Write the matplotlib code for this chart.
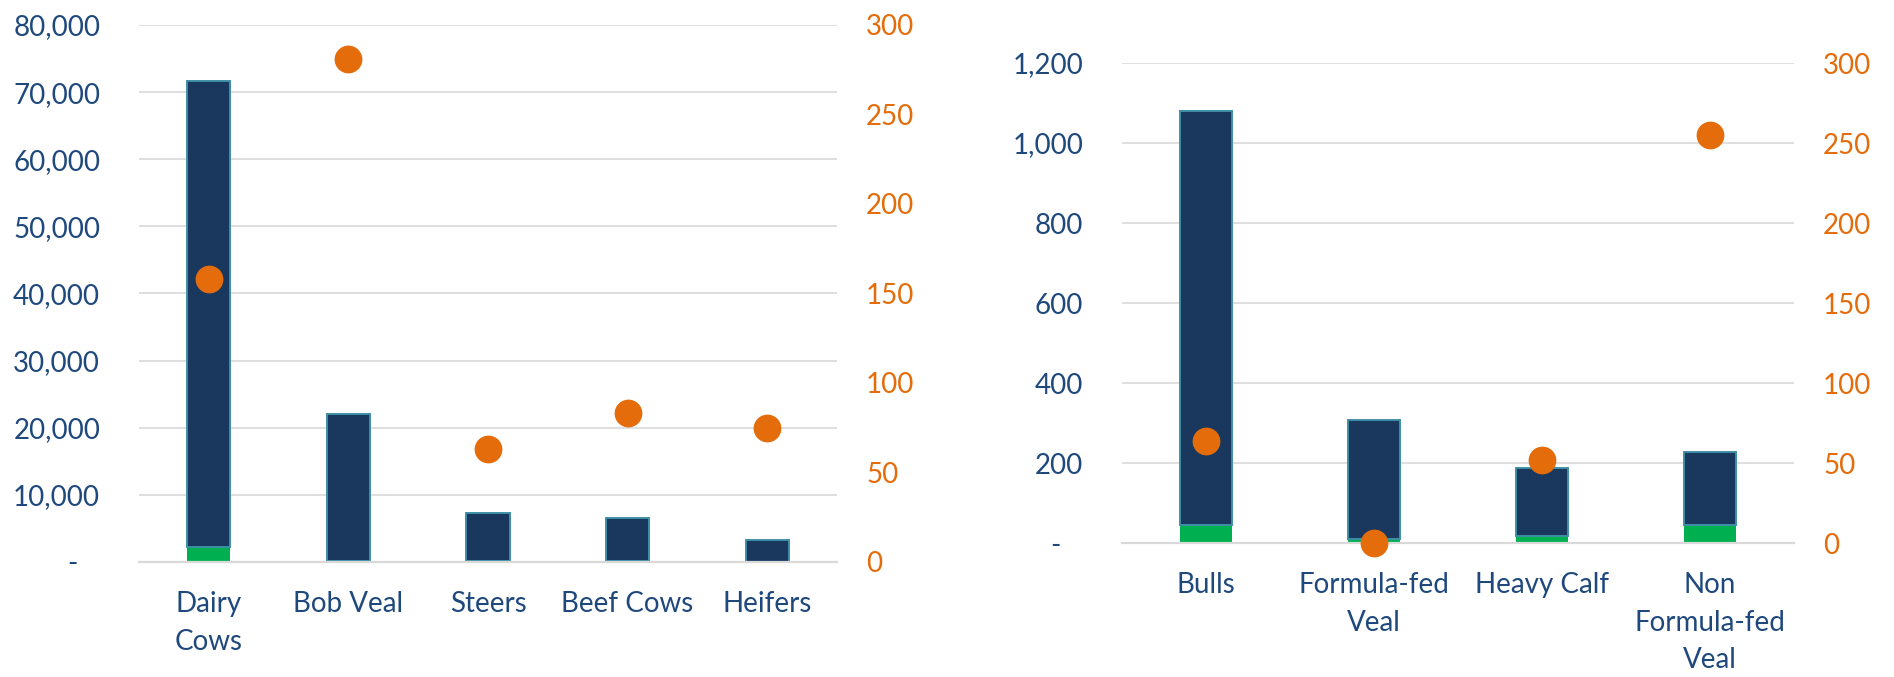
import numpy as np
import matplotlib.pyplot as plt
from matplotlib.ticker import FuncFormatter

plt.rcParams['font.family'] = ['Lato', 'DejaVu Sans']

# left panel
cats_a = ["Dairy\nCows", "Bob Veal", "Steers", "Beef Cows", "Heifers"]
green_a = [2200, 150, 100, 150, 50]
navy_a = [69500, 21900, 7200, 6400, 3150]
dots_a = [158, 281, 63, 83, 75]

# right panel
cats_b = ["Bulls", "Formula-fed\nVeal", "Heavy Calf", "Non\nFormula-fed\nVeal"]
green_b = [45, 10, 17, 45]
navy_b = [1035, 297, 170, 183]
dots_b = [64, 0, 52, 255]

NAVY = "#1A385E"
EDGE = "#3F8FA6"
GREEN = "#00B050"
ORANGE = "#E46C0A"
LABEL = "#1F497D"
GRID = "#D9D9D9"
FS = 20


def fmt_thousands(v, pos):
    if abs(v) < 1e-9:
        return "-   "
    return f"{v:,.0f}"


def panel(fig, rect, cats, green, navy, dots, ymax, ystep):
    ax = fig.add_axes(rect)
    x = np.arange(len(cats))
    w = 0.31
    ax.bar(x, green, width=w, color=GREEN, edgecolor="none", zorder=2)
    ax.bar(x, navy, width=w, bottom=green, color=NAVY, edgecolor=EDGE,
           linewidth=1.4, zorder=2)
    ax.set_xlim(-0.5, len(cats) - 0.5)
    ax.set_ylim(0, ymax)
    ax.set_yticks(np.arange(0, ymax + 1, ystep))
    ax.yaxis.set_major_formatter(FuncFormatter(fmt_thousands))
    ax.set_xticks(x)
    ax.set_xticklabels(cats, linespacing=1.55)
    ax.grid(axis="y", color=GRID, linewidth=1.2)
    ax.set_axisbelow(True)
    for s in ["top", "left", "right"]:
        ax.spines[s].set_visible(False)
    ax.spines["bottom"].set_color(GRID)
    ax.spines["bottom"].set_linewidth(1.6)
    ax.tick_params(axis="y", length=0, pad=28, labelsize=FS, labelcolor=LABEL)
    ax.tick_params(axis="x", length=0, pad=21, labelsize=FS, labelcolor=LABEL)

    ax2 = ax.twinx()
    ax2.scatter(x, dots, s=400, color=ORANGE, zorder=5, clip_on=False,
                linewidths=0)
    ax2.set_ylim(0, 300)
    ax2.set_yticks(np.arange(0, 301, 50))
    for s in ["top", "left", "right", "bottom"]:
        ax2.spines[s].set_visible(False)
    ax2.tick_params(axis="y", length=0, pad=21, labelsize=FS, labelcolor=ORANGE)
    return ax, ax2


fig = plt.figure(figsize=(18.94, 6.77), dpi=100)
panel(fig, [0.0734, 0.1699, 0.3685, 0.7932], cats_a, green_a, navy_a, dots_a,
      80000, 10000)
panel(fig, [0.5924, 0.1979, 0.3548, 0.7090], cats_b, green_b, navy_b, dots_b,
      1200, 200)

fig.savefig("out.png", dpi=100)
